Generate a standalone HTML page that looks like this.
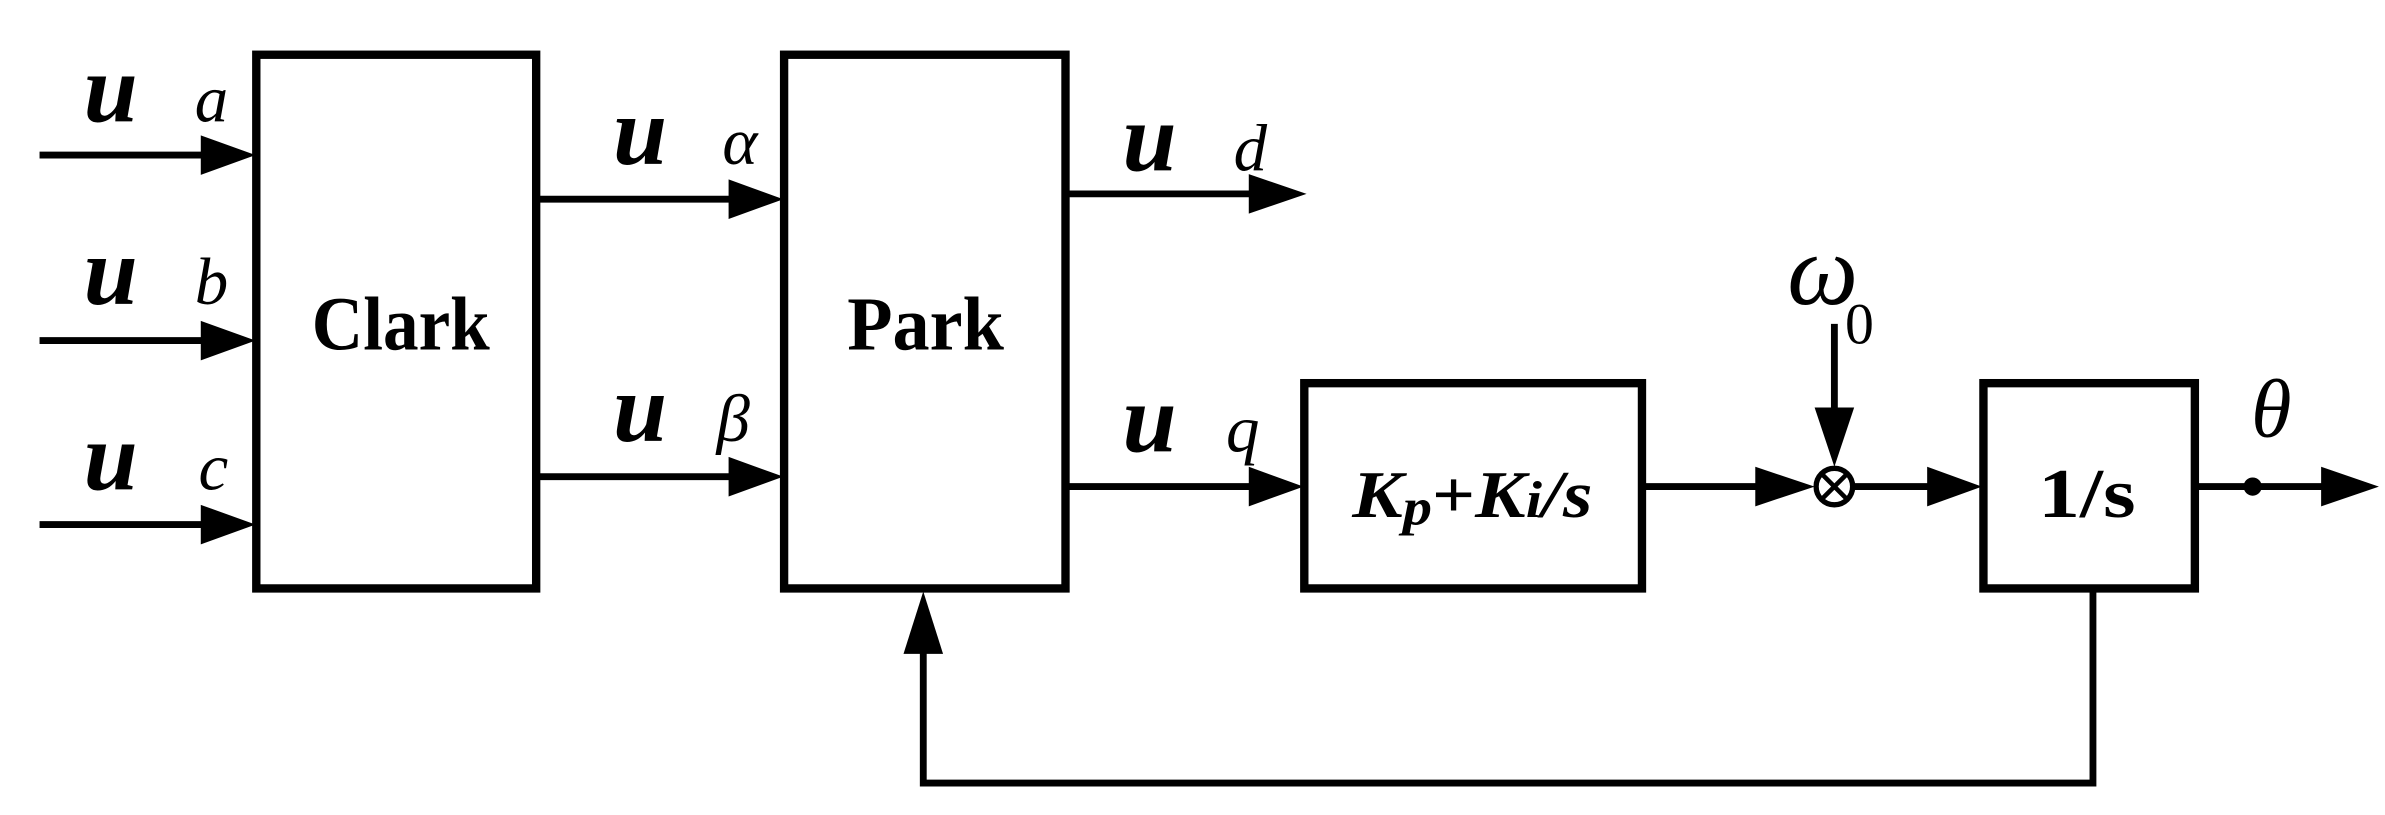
<!DOCTYPE html>
<html><head><meta charset="utf-8"><style>html,body{margin:0;padding:0;background:#fff}svg{display:block}text{font-family:"Liberation Serif","Times New Roman",serif}</style></head>
<body>
<svg width="2385" height="815" viewBox="0 0 1568 536" preserveAspectRatio="none" xmlns="http://www.w3.org/2000/svg">
<g fill="none" stroke="#000" stroke-width="5.5" stroke-linejoin="miter">
<rect x="168.5" y="36" width="184" height="351"/>
<rect x="515.5" y="36" width="185" height="351"/>
<rect x="857.5" y="252" width="222" height="135"/>
<rect x="1304" y="252" width="139" height="135"/>
</g>
<g fill="none" stroke="#000" stroke-width="4.5">
<circle cx="1206" cy="320" r="12" stroke-width="3.5"/>
<path d="M1197.5 311.5L1214.5 328.5M1214.5 311.5L1197.5 328.5" stroke-width="3"/>
<path d="M26 102H140M26 224H140M26 345H140"/>
<path d="M353 131H488M353 313.5H488"/>
<path d="M701 127.5H825M701 320H830"/>
<path d="M1080 320H1160M1218 320H1280M1443 320H1530"/>
<path d="M1206 213V275"/>
<path d="M1376 387V515H607V425"/>
</g>
<g fill="#000">
<path d="M132 89L168 102L132 115Z"/>
<path d="M132 211L168 224L132 237Z"/>
<path d="M132 332L168 345L132 358Z"/>
<path d="M479 118L515 131L479 144Z"/>
<path d="M479 300.5L515 313.5L479 326.5Z"/>
<path d="M821 114.5L859 127.5L821 140.5Z"/>
<path d="M821 307L857 320L821 333Z"/>
<path d="M1154 307L1193 320L1154 333Z"/>
<path d="M1267 307L1303 320L1267 333Z"/>
<path d="M1526 307L1564 320L1526 333Z"/>
<path d="M1193 268L1219 268L1206 307Z"/>
<path d="M594 430L620 430L607 389Z"/>
<circle cx="1481" cy="320" r="6"/>
</g>
<g fill="#000" font-style="italic">
<text x="55" y="80" font-size="64" font-weight="bold" transform="scale(1 1)" textLength="95">u<tspan font-size="44" font-weight="normal">a</tspan></text>
<text x="55" y="200" font-size="64" font-weight="bold" textLength="95">u<tspan font-size="44" font-weight="normal">b</tspan></text>
<text x="55" y="322" font-size="64" font-weight="bold" textLength="95">u<tspan font-size="44" font-weight="normal">c</tspan></text>
<text x="403" y="108" font-size="64" font-weight="bold" textLength="95">u<tspan font-size="44" font-weight="normal">α</tspan></text>
<text x="403" y="290" font-size="64" font-weight="bold" textLength="90">u<tspan font-size="44" font-weight="normal">β</tspan></text>
<text x="738" y="112" font-size="64" font-weight="bold" textLength="95">u<tspan font-size="44" font-weight="normal">d</tspan></text>
<text x="738" y="297" font-size="64" font-weight="bold" textLength="90">u<tspan font-size="44" font-weight="normal">q</tspan></text>
<text x="1175" y="200" font-size="66">ω</text>
<text x="1213" y="226" font-size="38" font-style="normal">0</text>
<text x="1480" y="287" font-size="54">θ</text>
<text x="889" y="340" font-size="44" font-weight="bold" textLength="158" lengthAdjust="spacingAndGlyphs">K<tspan font-size="34" dy="5">p</tspan><tspan dy="-5" font-style="normal">+</tspan>K<tspan font-size="34">i</tspan>/s</text>
</g>
<g fill="#000" font-weight="bold">
<text x="205" y="230" font-size="50" textLength="117" lengthAdjust="spacingAndGlyphs">Clark</text>
<text x="557" y="230" font-size="50" textLength="103" lengthAdjust="spacingAndGlyphs">Park</text>
<text x="1340" y="340" font-size="46" textLength="64" lengthAdjust="spacingAndGlyphs">1/s</text>
</g>
</svg>
</body></html>
